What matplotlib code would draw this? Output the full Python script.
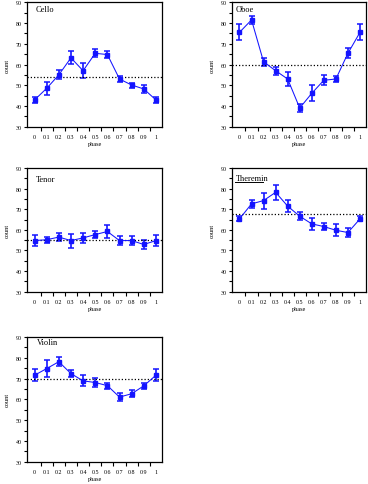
import numpy as np
import matplotlib
matplotlib.use('Agg')
import matplotlib.pyplot as plt

# phase categories on the x axis
PHASE_LABELS = ['0', '0.1', '0.2', '0.3', '0.4', '0.5', '0.6', '0.7', '0.8', '0.9', '1']

# mean counts and error bar half-widths
cello = [42.9, 48.5, 55.0, 63.2, 57.0, 65.4, 64.8, 53.0, 50.1, 48.2, 42.9]
cello_err = [1.4, 3.0, 2.2, 3.1, 3.6, 1.9, 1.6, 1.4, 1.2, 2.1, 1.4]
cello_mean = 54.0

oboe = [75.5, 81.5, 61.3, 57.0, 53.0, 39.0, 46.1, 52.4, 53.0, 65.4, 75.5]
oboe_err = [3.9, 1.8, 2.0, 1.9, 3.5, 1.9, 3.8, 2.3, 1.4, 2.4, 3.9]
oboe_mean = 59.8

tenor = [54.8, 55.2, 56.5, 54.8, 56.1, 57.7, 59.2, 54.8, 54.8, 52.9, 54.8]
tenor_err = [2.8, 1.5, 1.9, 3.4, 2.3, 1.5, 3.0, 2.3, 2.3, 2.2, 2.7]
tenor_mean = 55.3

theremin = [65.3, 72.6, 74.2, 78.2, 71.5, 66.6, 62.9, 61.6, 59.8, 58.7, 65.3]
theremin_err = [1.2, 1.9, 3.9, 3.6, 2.9, 1.9, 2.9, 1.5, 2.8, 2.0, 1.2]
theremin_mean = 67.6

violin = [71.6, 74.8, 78.1, 72.4, 68.9, 68.1, 66.6, 61.1, 62.7, 66.5, 71.6]
violin_err = [3.0, 3.9, 2.1, 1.5, 2.7, 2.3, 1.5, 2.0, 1.8, 1.5, 3.0]
violin_mean = 69.8

W, H = 368, 485
fig = plt.figure(figsize=(W/100, H/100), dpi=100)
plt.rcParams['font.family'] = ['Liberation Serif', 'DejaVu Serif']

# panel boxes in pixels: (left, right, top, bottom)
boxes = {
    'Cello': (27, 162, 3.3, 127.7),
    'Oboe': (232, 366, 3.3, 127.7),
    'Tenor': (27, 162, 169, 292.7),
    'Theremin': (232, 366, 169, 292.7),
    'Violin': (27, 162, 338, 462.7),
}
# where each panel name sits inside its box (axes fraction)
name_pos = {
    'Cello': (0.067, 0.945),
    'Oboe': (0.03, 0.945),
    'Tenor': (0.067, 0.91),
    'Theremin': (0.03, 0.92),
    'Violin': (0.07, 0.962),
}
panels = [
    ('Cello', cello, cello_err, cello_mean),
    ('Oboe', oboe, oboe_err, oboe_mean),
    ('Tenor', tenor, tenor_err, tenor_mean),
    ('Theremin', theremin, theremin_err, theremin_mean),
    ('Violin', violin, violin_err, violin_mean),
]

BLUE = '#1414ff'
x = np.arange(len(PHASE_LABELS))

for name, vals, err, mean in panels:
    l, r, t, b = boxes[name]
    ax = fig.add_axes([l/W, 1 - b/H, (r - l)/W, (b - t)/H])
    ax.errorbar(x, vals, yerr=err, color=BLUE, lw=0.75, elinewidth=1.2,
                capsize=1.9, capthick=1.1, marker='s', ms=2.2, mfc=BLUE, mec=BLUE)
    ax.axhline(mean, color='black', ls=(0, (1, 1.6)), lw=0.9)
    ax.set_xlim(-0.62, 10.5)
    ax.set_ylim(30, 90)
    ax.set_yticks(np.arange(30, 91, 10))
    ax.set_yticks(np.arange(35, 90, 10), minor=True)
    ax.set_xticks(x)
    ax.set_xticklabels(PHASE_LABELS)
    ax.set_xticks(x[:-1] + 0.5, minor=True)
    ax.tick_params(axis='x', which='major', length=0, pad=5.5, labelsize=4.3)
    ax.tick_params(axis='x', which='minor', length=3, width=0.8, direction='out')
    ax.tick_params(axis='y', which='both', length=2.5, width=0.8, direction='out',
                   labelsize=4.3, pad=1.5)
    for s in ax.spines.values():
        s.set_linewidth(0.9)
    ax.set_xlabel('phase', fontsize=4.5, labelpad=1.5)
    ax.set_ylabel('count', fontsize=4.5, labelpad=4)
    tx, ty = name_pos[name]
    ax.text(tx, ty, name, transform=ax.transAxes, fontsize=6,
            ha='left', va='center')
    if name == 'Theremin':
        # the reference shows this label underlined
        ax.plot([0.025, 0.235], [0.888, 0.888], transform=ax.transAxes,
                color='black', lw=0.7)

fig.savefig('out.png', dpi=100)
